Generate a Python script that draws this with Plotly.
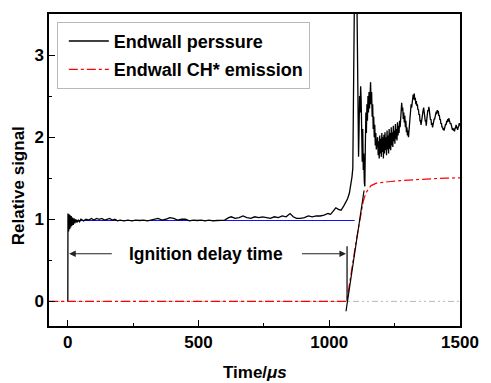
import plotly.graph_objects as go

# ---- data ----
# pressure trace before ignition: (time in us, relative signal)
pre_trace = [(0, 0), (0.5, 1.07), (3, 0.85), (5, 1.06), (7, 0.88), (9, 1.05), (11, 0.90),
             (13, 1.04), (15, 0.92), (18, 1.02), (21, 0.93), (24, 1.01), (27, 0.95), (30, 1.0),
             (35, 0.96), (40, 0.99), (45, 0.97), (50, 1.0), (60, 0.98), (70, 1.0), (80, 0.99),
             (90, 1.01), (100, 0.99), (110, 1.01), (120, 1.0), (130, 1.01), (140, 0.99),
             (150, 1.0), (160, 1.01), (170, 0.99), (180, 1.0), (190, 0.98), (200, 0.99),
             (215, 0.98), (230, 0.99), (245, 0.98), (260, 0.99), (275, 0.985), (290, 0.99),
             (305, 0.98), (320, 0.99), (335, 1.0), (345, 1.01), (360, 0.99), (375, 1.0),
             (390, 1.02), (405, 1.01), (420, 0.99), (435, 1.0), (450, 1.0), (465, 0.98),
             (480, 0.99), (495, 0.985), (510, 0.99), (525, 0.98), (540, 0.99), (555, 0.98),
             (570, 0.985), (585, 0.99), (600, 0.99), (615, 1.02), (625, 1.03), (640, 1.01),
             (655, 1.02), (670, 1.04), (685, 1.02), (700, 1.01), (715, 1.03), (730, 1.02),
             (745, 1.03), (760, 1.02), (775, 1.01), (790, 1.03), (805, 1.02), (820, 1.04),
             (835, 1.03), (850, 1.07), (862, 1.03), (875, 1.01), (890, 1.01), (905, 1.02),
             (920, 1.04), (935, 1.03), (950, 1.04), (965, 1.04), (980, 1.05), (995, 1.07),
             (1005, 1.06), (1015, 1.10), (1025, 1.14), (1035, 1.12), (1045, 1.11),
             (1055, 1.16), (1062, 1.20), (1070, 1.25), (1077, 1.32), (1083, 1.42),
             (1087, 1.52), (1090, 1.62)]
# ignition spike
spike_trace = [(1092, 2.2), (1094, 3.2), (1096, 4.2), (1100, 5.0), (1104, 4.5), (1106, 3.6),
               (1108, 2.8), (1110, 2.2), (1112, 1.76), (1114, 2.1), (1116, 2.5), (1118, 2.3),
               (1120, 2.62), (1122, 2.45), (1124, 2.0), (1126, 1.7), (1128, 2.1), (1130, 1.6),
               (1132, 1.8), (1134, 1.45), (1136, 1.40), (1138, 1.9), (1140, 2.3), (1142, 2.05),
               (1144, 2.4), (1146, 2.2), (1148, 2.5), (1150, 2.3), (1152, 2.55), (1154, 2.35),
               (1156, 2.5), (1158, 2.67), (1160, 2.4), (1162, 2.55), (1164, 2.25), (1166, 2.4),
               (1168, 2.1), (1170, 2.25), (1172, 2.0), (1174, 2.15), (1176, 1.9), (1178, 2.05),
               (1180, 1.85), (1182, 1.98)]
# post-ignition pressure
post_trace = [(1185, 2.0), (1187, 1.78), (1189, 1.95), (1191, 1.74), (1193, 2.02), (1195, 1.8),
              (1197, 1.98), (1199, 1.76), (1201, 2.05), (1203, 1.82), (1205, 2.0), (1207, 1.74),
              (1209, 2.03), (1211, 1.8), (1213, 2.06), (1215, 1.84), (1217, 2.0), (1219, 1.78),
              (1221, 2.08), (1223, 1.85), (1225, 2.02), (1227, 1.8), (1229, 2.1), (1231, 1.86),
              (1233, 2.05), (1235, 1.84), (1237, 2.12), (1239, 1.9), (1241, 2.06), (1243, 1.88),
              (1245, 2.14), (1247, 1.95), (1249, 2.08), (1251, 1.92), (1253, 2.16), (1255, 1.98),
              (1257, 2.1), (1259, 1.96), (1261, 2.18), (1263, 2.02), (1265, 2.14), (1267, 2.05),
              (1269, 2.2), (1271, 2.12), (1273, 2.3), (1275, 2.24), (1277, 2.42), (1279, 2.32),
              (1281, 2.36), (1283, 2.22), (1285, 2.3), (1287, 2.18), (1289, 2.26), (1291, 2.12),
              (1293, 2.2), (1295, 2.06), (1297, 2.12), (1299, 2.02), (1301, 2.08), (1303, 2.0),
              (1305, 2.1), (1307, 2.16), (1309, 2.28), (1311, 2.3), (1313, 2.4), (1315, 2.36),
              (1317, 2.45), (1319, 2.44), (1321, 2.52), (1323, 2.46), (1325, 2.53), (1327, 2.45),
              (1329, 2.48), (1331, 2.4), (1333, 2.44), (1335, 2.38), (1337, 2.4), (1339, 2.33),
              (1341, 2.34), (1343, 2.27), (1345, 2.28), (1347, 2.2), (1349, 2.2), (1351, 2.15),
              (1353, 2.22), (1355, 2.25), (1357, 2.32), (1359, 2.33), (1361, 2.36), (1363, 2.29),
              (1365, 2.28), (1367, 2.2), (1369, 2.2), (1371, 2.14), (1373, 2.22), (1375, 2.28),
              (1377, 2.33), (1379, 2.32), (1381, 2.37), (1383, 2.3), (1385, 2.28), (1387, 2.21),
              (1389, 2.22), (1391, 2.15), (1393, 2.17), (1395, 2.12), (1397, 2.16), (1399, 2.17),
              (1401, 2.22), (1403, 2.22), (1405, 2.27), (1407, 2.26), (1409, 2.31), (1411, 2.28),
              (1413, 2.33), (1415, 2.3), (1417, 2.32), (1419, 2.26), (1421, 2.27), (1423, 2.21),
              (1425, 2.22), (1427, 2.16), (1429, 2.17), (1431, 2.12), (1433, 2.13), (1435, 2.09),
              (1437, 2.11), (1439, 2.08), (1441, 2.12), (1443, 2.11), (1445, 2.16), (1447, 2.15),
              (1449, 2.2), (1451, 2.18), (1453, 2.22), (1455, 2.19), (1457, 2.23), (1459, 2.2),
              (1461, 2.21), (1463, 2.16), (1465, 2.17), (1467, 2.12), (1469, 2.13), (1471, 2.09),
              (1473, 2.11), (1475, 2.08), (1477, 2.1), (1479, 2.07), (1481, 2.11), (1483, 2.11),
              (1485, 2.15), (1487, 2.12), (1489, 2.13), (1491, 2.09), (1493, 2.12), (1495, 2.13),
              (1497, 2.17), (1499, 2.14), (1500, 2.15)]

t_ch = [-72, 1062, 1068, 1100, 1130, 1140, 1150, 1160, 1180, 1200, 1235, 1270, 1309, 1350, 1400, 1450, 1500]
ch_emission = [0, 0, 0.02, 0.68, 1.22, 1.32, 1.37, 1.41, 1.44, 1.45, 1.46, 1.47, 1.48, 1.49, 1.495, 1.5, 1.505]

t_baseline = [-72, 1500]
baseline = [0, 0]

t_ref = [0, 1097]
ref_level = [0.985, 0.985]

t_tangent = [1064, 1133]
tangent = [-0.12, 1.35]

t_marker = [1068, 1068]
marker_y = [0, 0.67]

arrow_y = 0.58
arrow_left = (5, 174)      # head, tail
arrow_right = (1064, 890)  # head, tail
label_x = 527
label_text = "Ignition delay time"

series_names = ["Endwall perssure", "Endwall CH* emission"]

FONT = "Liberation Sans, Arial, sans-serif"

trace_all = pre_trace + spike_trace + post_trace
t_p = [p[0] for p in trace_all]
pressure = [p[1] for p in trace_all]

fig = go.Figure()
fig.add_trace(go.Scatter(x=t_baseline, y=baseline, mode="lines", showlegend=False,
                         line=dict(color="#b8b8b8", width=1, dash="6px,3px,2px,3px,2px,3px")))
fig.add_trace(go.Scatter(x=t_ref, y=ref_level, mode="lines", showlegend=False,
                         line=dict(color="#1010ff", width=1.2)))
fig.add_trace(go.Scatter(x=t_p, y=pressure, mode="lines", name=series_names[0],
                         legendgroup="a", line=dict(color="black", width=1.3)))
fig.add_trace(go.Scatter(x=t_ch, y=ch_emission, mode="lines", name=series_names[1],
                         legendgroup="b", line=dict(color="red", width=1.2, dash="dashdot")))
fig.add_trace(go.Scatter(x=t_tangent, y=tangent, mode="lines", showlegend=False,
                         line=dict(color="black", width=1.2)))
fig.add_trace(go.Scatter(x=t_marker, y=marker_y, mode="lines", showlegend=False,
                         line=dict(color="black", width=1.2)))

for head, tail in (arrow_left, arrow_right):
    fig.add_annotation(x=head, y=arrow_y, ax=tail, ay=arrow_y, xref="x", yref="y",
                       axref="x", ayref="y", text="", showarrow=True, arrowhead=2,
                       arrowsize=1.2, arrowwidth=1.1, arrowcolor="#222")
fig.add_annotation(x=label_x, y=arrow_y, xref="x", yref="y", text=label_text, showarrow=False,
                   xanchor="center", yanchor="middle",
                   font=dict(family=FONT, size=17.5, color="black", weight="bold"))

fig.add_annotation(x=-0.0735, y=0.4505, xref="paper", yref="paper", text="Relative signal",
                   textangle=-90, showarrow=False, xanchor="center", yanchor="middle",
                   font=dict(family=FONT, size=17, color="black", weight="bold"))
fig.add_annotation(x=0.5, y=-0.150, xref="paper", yref="paper", text="Time/<i>μs</i>",
                   showarrow=False, xanchor="center", yanchor="middle",
                   font=dict(family=FONT, size=17, color="black", weight="bold"))

axis_common = dict(showline=True, linecolor="black", linewidth=1.5, mirror=True,
                   ticks="inside", ticklen=6, tickwidth=1.2, tickcolor="black",
                   showgrid=False, zeroline=False,
                   tickfont=dict(family=FONT, size=17, color="black", weight="bold"))

fig.update_xaxes(range=[-72, 1500], tick0=0, dtick=500,
                 minor=dict(ticks="inside", ticklen=3.5, tickwidth=1.2, tickcolor="black",
                            dtick=250, tick0=0, showgrid=False),
                 **axis_common)
fig.update_yaxes(range=[-0.3, 3.5], tick0=0, dtick=1,
                 minor=dict(ticks="inside", ticklen=3.5, tickwidth=1.2, tickcolor="black",
                            dtick=0.5, tick0=0, showgrid=False),
                 **axis_common)

fig.update_layout(
    width=491, height=383,
    margin=dict(l=49, r=20, t=13, b=57),
    paper_bgcolor="white", plot_bgcolor="white",
    font=dict(family=FONT, size=17, color="black"),
    showlegend=True,
    legend=dict(x=0.019, y=0.975, xanchor="left", yanchor="top",
                bgcolor="white", bordercolor="#b8b8b8", borderwidth=1,
                font=dict(family=FONT, size=18, color="black", weight="bold"),
                itemwidth=40, indentation=6,
                traceorder="grouped", tracegroupgap=2),
)

fig.write_html("out.html")
